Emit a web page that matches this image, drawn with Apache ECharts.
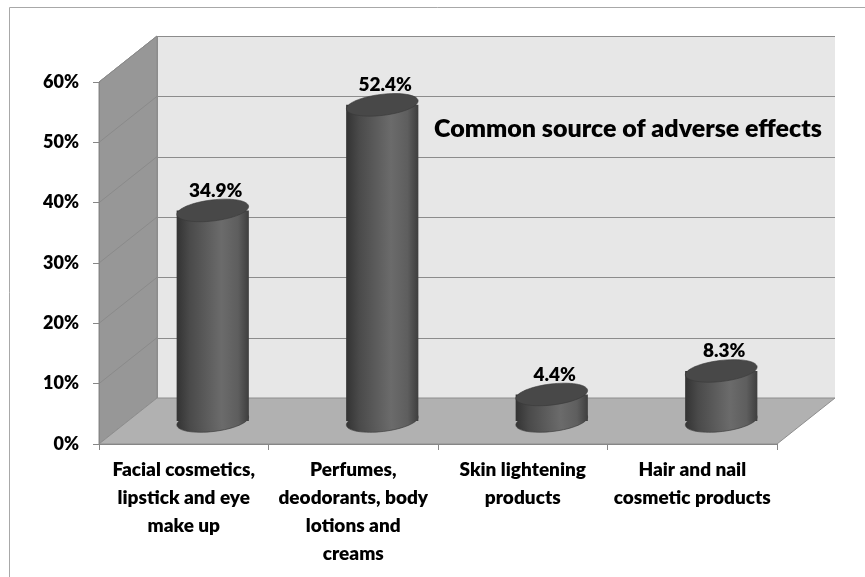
<!DOCTYPE html>
<html><head><meta charset="utf-8">
<script src="https://cdn.jsdelivr.net/npm/echarts@6/dist/echarts.min.js"></script>
<style>html,body{margin:0;padding:0;background:#fff}#c{width:865px;height:577px}</style>
</head><body><div id="c"></div>
<script>
const categories = [
  'Facial cosmetics,\nlipstick and eye\nmake up',
  'Perfumes,\ndeodorants, body\nlotions and\ncreams',
  'Skin lightening\nproducts',
  'Hair and nail\ncosmetic products'
];
const values = [0.349, 0.524, 0.044, 0.083];
const valueLabels = ['34.9%', '52.4%', '4.4%', '8.3%'];
const yTicks = [0, 0.1, 0.2, 0.3, 0.4, 0.5, 0.6];
const yTickLabels = ['0%', '10%', '20%', '30%', '40%', '50%', '60%'];
const titleText = 'Common source of adverse effects';

const DX = 58, DY = -46;
const FONT = 'Lato';
const WEIGHT = 800;
const chart = echarts.init(document.getElementById('c'), null, {renderer: 'canvas'});

function bgRender(params, api) {
  const cs = params.coordSys;
  const x0 = cs.x, x1 = cs.x + cs.width;
  const yv = v => api.coord([0, v])[1];
  const yb = yv(0), yt = yv(yTicks[yTicks.length - 1]);
  const ch = [];
  ch.push({type: 'polygon', shape: {points: [[x0, yb], [x0 + DX, yb + DY], [x0 + DX, yt + DY], [x0, yt]]},
    style: {fill: '#979797', stroke: '#8a8a8a', lineWidth: 1}});
  ch.push({type: 'polygon', shape: {points: [[x0 + DX, yb + DY], [x1 + DX, yb + DY], [x1 + DX, yt + DY], [x0 + DX, yt + DY]]},
    style: {fill: '#e7e7e7', stroke: null}});
  ch.push({type: 'polygon', shape: {points: [[x0, yb], [x1, yb], [x1 + DX, yb + DY], [x0 + DX, yb + DY]]},
    style: {fill: '#b1b1b1', stroke: '#8e8e8e', lineWidth: 1}});
  yTicks.forEach(v => {
    const y = Math.round(yv(v) + DY) + 0.5;
    if (v > 0) {
      ch.push({type: 'line', shape: {x1: x0 + DX, y1: y, x2: x1 + DX, y2: y}, style: {stroke: '#8c8c8c', lineWidth: 1.2}});
      ch.push({type: 'line', shape: {x1: x0, y1: yv(v), x2: x0 + DX, y2: yv(v) + DY}, style: {stroke: '#8a8a8a', lineWidth: 1}});
    }
  });
  ch.push({type: 'line', shape: {x1: x0 + DX + 0.5, y1: yt + DY, x2: x0 + DX + 0.5, y2: yb + DY}, style: {stroke: '#8c8c8c', lineWidth: 1}});
  return {type: 'group', children: ch};
}

function barRender(params, api) {
  const i = api.value(0), v = api.value(1);
  const base = api.coord([i, 0]);
  const top = api.coord([i, v]);
  const bw = api.size([1, 0])[0];
  const rx = bw * 0.213, ry = 10.5;
  const cx = base[0] + DX / 2;
  const by = base[1] + DY / 2;
  const ty = top[1] + DY / 2;
  const grad = new echarts.graphic.LinearGradient(0, 0, 1, 0, [
    {offset: 0, color: '#333333'},
    {offset: 0.18, color: '#4a4a4a'},
    {offset: 0.62, color: '#6b6b6b'},
    {offset: 0.85, color: '#5e5e5e'},
    {offset: 1, color: '#3e3e3e'}
  ]);
  const tilt = 0.12;
  return {type: 'group', children: [
    {type: 'ellipse', shape: {cx: cx, cy: by, rx: rx, ry: ry}, rotation: tilt, originX: cx, originY: by,
      style: {fill: grad, stroke: '#3a3a3a', lineWidth: 0.6}},
    {type: 'rect', shape: {x: cx - rx, y: ty, width: rx * 2, height: by - ty}, style: {fill: grad}},
    {type: 'ellipse', shape: {cx: cx, cy: ty, rx: rx, ry: ry}, rotation: tilt, originX: cx, originY: ty,
      style: {fill: '#484848', stroke: '#3a3a3a', lineWidth: 0.6}},
    {type: 'text', x: cx + 3, y: ty - 20, style: {text: valueLabels[params.dataIndex], textAlign: 'center', textVerticalAlign: 'middle',
      font: WEIGHT + ' 19px ' + FONT, fill: '#000'}}
  ]};
}

chart.setOption({
  animation: false,
  backgroundColor: '#fff',
  grid: {left: 99, right: 88, top: 82, bottom: 133, containLabel: false},
  xAxis: {
    type: 'category', data: categories, z: 5,
    axisLine: {show: true, lineStyle: {color: '#868686', width: 1}},
    axisTick: {show: true, length: 6, lineStyle: {color: '#868686'}},
    axisLabel: {interval: 0, color: '#000', fontFamily: FONT, fontWeight: WEIGHT, fontSize: 19, lineHeight: 28, margin: 12},
    splitLine: {show: false}
  },
  yAxis: {
    type: 'value', min: 0, max: 0.6, interval: 0.1, z: 5,
    axisLine: {show: true, lineStyle: {color: '#868686', width: 1}},
    axisTick: {show: true, length: 6, lineStyle: {color: '#868686'}},
    axisLabel: {color: '#000', fontFamily: FONT, fontWeight: WEIGHT, fontSize: 18, margin: 20,
      formatter: val => { const k = yTicks.findIndex(t => Math.abs(t - val) < 1e-6); return k >= 0 ? yTickLabels[k] : ''; }},
    splitLine: {show: false}
  },
  graphic: [
    {type: 'rect', shape: {x: 9.5, y: 7.5, width: 900, height: 700}, style: {fill: 'none', stroke: '#a8a8a8', lineWidth: 1}, z: -10},
    {type: 'text', x: 628, y: 129, z: 10, style: {text: titleText, textAlign: 'center', textVerticalAlign: 'middle', font: WEIGHT + ' 25px ' + FONT, fill: '#000'}}
  ],
  series: [
    {type: 'custom', name: 'bg', renderItem: bgRender, data: [[0, 0]], z: 0, silent: true, clip: false},
    {type: 'custom', name: 'bars', renderItem: barRender, data: values.map((v, i) => [i, v]), z: 3, clip: false}
  ]
});
</script></body></html>
